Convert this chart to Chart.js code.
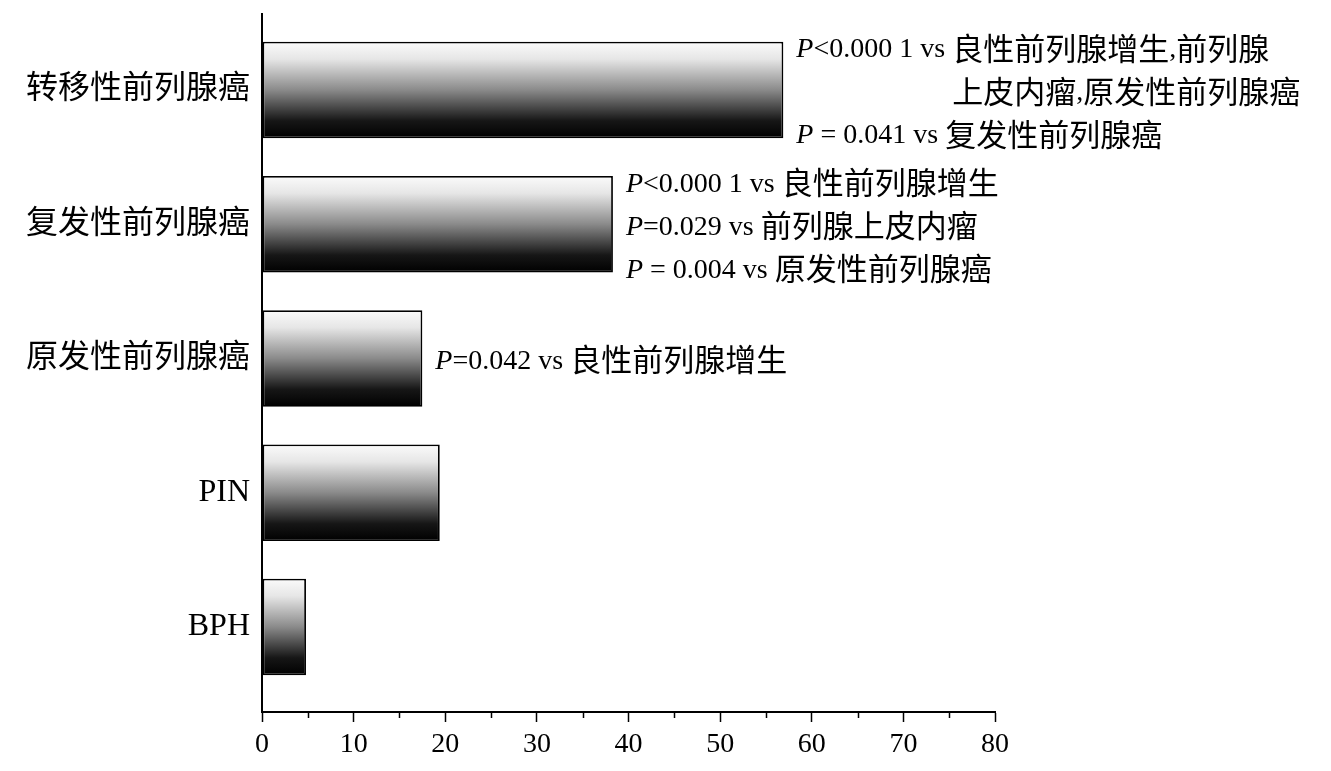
<!DOCTYPE html>
<html>
<head>
<meta charset="utf-8">
<script src="https://cdn.jsdelivr.net/npm/chart.js@4"></script>
<style>
  html, body { margin: 0; padding: 0; background: #fff; }
  #wrap { width: 1331px; height: 771px; }
</style>
</head>
<body>
<div id="wrap"><canvas id="chart" width="1331" height="771"></canvas></div>
<script>
const categories = ['转移性前列腺癌', '复发性前列腺癌', '原发性前列腺癌', 'PIN', 'BPH'];
const values = [56.9, 38.3, 17.5, 19.4, 4.8];
const xTicks = [0, 10, 20, 30, 40, 50, 60, 70, 80];
const xMinorTicks = [5, 15, 25, 35, 45, 55, 65, 75];
// p-value notes next to each bar (lines that don't start with P continue the previous one)
const notes = [
    ['P<0.000 1 vs 良性前列腺增生,前列腺', '上皮内瘤,原发性前列腺癌', 'P = 0.041 vs 复发性前列腺癌'],
    ['P<0.000 1 vs 良性前列腺增生', 'P=0.029 vs 前列腺上皮内瘤', 'P = 0.004 vs 原发性前列腺癌'],
    ['P=0.042 vs 良性前列腺增生'],
    [],
    []
];

const serif = '"Liberation Serif", "Noto Sans CJK SC", serif';
const cjk = '"Noto Sans CJK SC", serif';
const barFrac = 0.72;

function barGradient(context) {
    const chart = context.chart;
    const y = chart.scales.y;
    if (!y || context.dataIndex === undefined) return '#888';
    const c = y.getPixelForValue(context.dataIndex);
    const half = Math.abs(y.getPixelForValue(1) - y.getPixelForValue(0)) * barFrac / 2;
    if (!isFinite(c) || !isFinite(half) || half <= 0) return '#888';
    const g = chart.ctx.createLinearGradient(0, c - half, 0, c + half);
    g.addColorStop(0, '#fbfbfb');
    g.addColorStop(0.18, '#e6e6e6');
    g.addColorStop(0.5, '#8a8a8a');
    g.addColorStop(0.82, '#161616');
    g.addColorStop(1, '#000');
    return g;
}

// draws latin runs in serif and chinese runs a bit larger, returns new x
function drawMixed(ctx, text, x, y) {
    const parts = text.match(/[\u3000-\u9fff]+|[^\u3000-\u9fff]+/g) || [];
    parts.forEach(function(p) {
        const isCjk = /[\u3000-\u9fff]/.test(p);
        ctx.font = isCjk ? '31px ' + cjk : '28px ' + serif;
        ctx.fillText(p, x, isCjk ? y - 2 : y);
        x += ctx.measureText(p).width;
    });
    return x;
}

const minorTickPlugin = {
    id: 'minorTicks',
    afterDraw(chart) {
        const ctx = chart.ctx;
        const x = chart.scales.x;
        const base = chart.chartArea.bottom;
        ctx.save();
        ctx.strokeStyle = '#000';
        ctx.lineWidth = 1.5;
        xMinorTicks.forEach(function(v) {
            const px = Math.round(x.getPixelForValue(v)) + 0.5;
            ctx.beginPath();
            ctx.moveTo(px, base);
            ctx.lineTo(px, base + 6);
            ctx.stroke();
        });
        ctx.restore();
    }
};

const notesPlugin = {
    id: 'notes',
    afterDatasetsDraw(chart) {
        const ctx = chart.ctx;
        const meta = chart.getDatasetMeta(0);
        const lineGap = 43;
        ctx.save();
        ctx.fillStyle = '#000';
        ctx.textBaseline = 'middle';
        ctx.textAlign = 'left';
        notes.forEach(function(lines, i) {
            const bar = meta.data[i];
            if (!bar || !lines.length) return;
            const x0 = bar.x + 13;
            let indent = 0;
            lines.forEach(function(line, j) {
                const ly = bar.y + 3 + (j - (lines.length - 1) / 2) * lineGap;
                let x = x0;
                if (line.charAt(0) === 'P') {
                    ctx.font = 'italic 28px ' + serif;
                    ctx.fillText('P', x, ly);
                    x += ctx.measureText('P').width;
                    const rest = line.slice(1);
                    // continuation lines line up with the text after "vs"
                    const vs = rest.indexOf('vs ');
                    const head = vs >= 0 ? rest.slice(0, vs + 3) : rest;
                    const xHead = drawMixed(ctx, head, x, ly);
                    indent = xHead - x0;
                    if (vs >= 0) drawMixed(ctx, rest.slice(vs + 3), xHead, ly);
                } else {
                    drawMixed(ctx, line, x0 + indent, ly);
                }
            });
        });
        ctx.restore();
    }
};

const ctx = document.getElementById('chart').getContext('2d');
const chart = new Chart(ctx, {
    type: 'bar',
    data: {
        datasets: [{
            data: categories.map(function(c, i) { return { y: i, x: values[i] }; }),
            backgroundColor: barGradient,
            borderColor: '#000',
            borderWidth: 1.8,
            borderSkipped: false,
            categoryPercentage: 1,
            barPercentage: barFrac
        }]
    },
    options: {
        indexAxis: 'y',
        responsive: false,
        animation: false,
        layout: { padding: { top: 14, right: 336, left: 0, bottom: 0 } },
        plugins: {
            legend: { display: false },
            tooltip: { enabled: false }
        },
        scales: {
            x: {
                type: 'linear',
                min: 0,
                max: 80,
                afterBuildTicks: function(scale) {
                    scale.ticks = xTicks.map(function(v) { return { value: v }; });
                },
                afterFit: function(scale) { scale.height = 59; },
                grid: {
                    drawOnChartArea: false,
                    drawTicks: true,
                    tickLength: 10,
                    tickColor: '#000',
                    tickWidth: 1.5
                },
                border: { display: true, color: '#000', width: 2 },
                ticks: {
                    color: '#000',
                    padding: 6,
                    maxRotation: 0,
                    font: { family: serif, size: 28 }
                }
            },
            y: {
                type: 'linear',
                reverse: true,
                offset: false,
                min: -0.566,
                max: 4.633,
                afterBuildTicks: function(scale) {
                    scale.ticks = categories.map(function(c, i) { return { value: i }; });
                },
                afterFit: function(scale) {
                    scale.width = 262;
                    scale.paddingTop = 0;
                    scale.paddingBottom = 0;
                },
                grid: { display: false, offset: false },
                border: { display: true, color: '#000', width: 2 },
                ticks: {
                    color: '#000',
                    padding: 4,
                    font: { family: serif, size: 32 },
                    callback: function(v) { return categories[v]; }
                }
            }
        }
    },
    plugins: [minorTickPlugin, notesPlugin]
});
</script>
</body>
</html>
